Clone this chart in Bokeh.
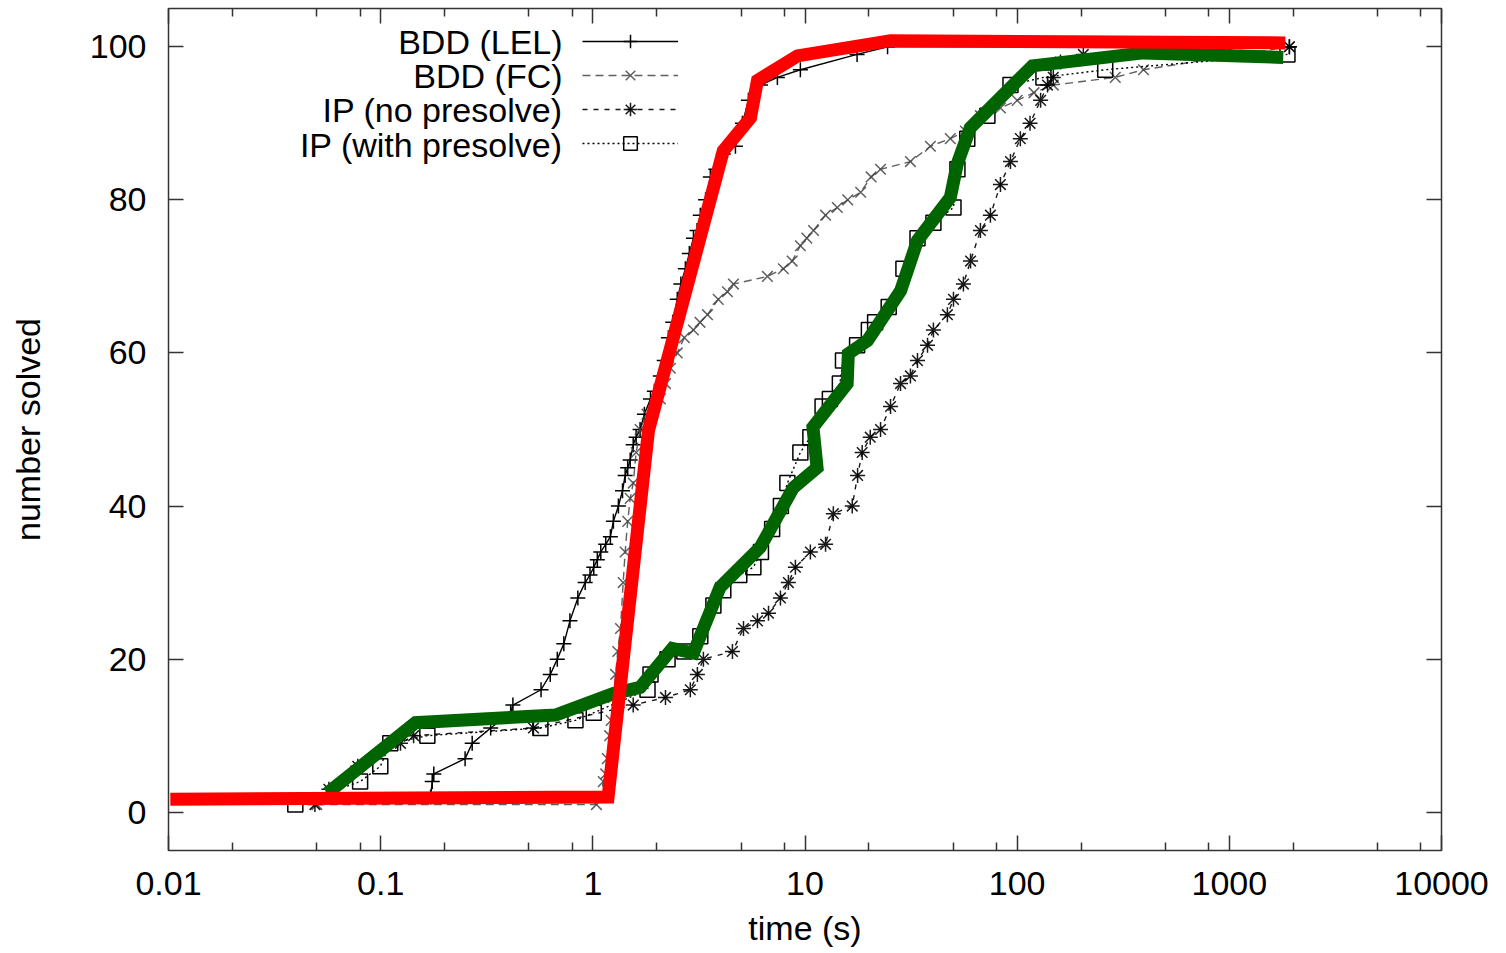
from bokeh.plotting import figure
from bokeh.models import (FixedTicker, CustomJSTickFormatter, LogAxis, LinearAxis,
                          Legend, LegendItem, Label)
from bokeh.embed import file_html
from bokeh.resources import INLINE

# ---------------- data ----------------
x_major = [0.01, 0.1, 1, 10, 100, 1000, 10000]
x_tick_labels = ["0.01", "0.1", "1", "10", "100", "1000", "10000"]
x_minor_mult = [2, 5, 8]
y_major = [0, 20, 40, 60, 80, 100]

series_names = ["BDD (LEL)", "BDD (FC)", "IP (no presolve)", "IP (with presolve)"]

lel_t = [0.172, 0.175, 0.178, 0.25, 0.27, 0.33, 0.41, 0.42, 0.57, 0.63, 0.68, 0.73,
         0.78, 0.85, 0.92, 0.97, 1.01, 1.05, 1.09, 1.15, 1.21, 1.25, 1.32, 1.38, 1.42,
         1.46, 1.5, 1.55, 1.6, 1.67, 1.75, 1.87, 1.95, 2.08, 2.17, 2.27, 2.38, 2.5,
         2.6, 2.73, 2.85, 2.98, 3.1, 3.21, 3.4, 3.58, 3.8, 4.12, 4.7, 5.07, 5.41, 6.17,
         7.41, 9.51, 17.6, 24.5, 1919]
lel_n = [2, 4, 5, 7, 9, 11, 13, 14, 16, 18, 20, 22,
         25, 28, 30, 31, 32, 33, 34, 35, 36, 38, 40, 42, 44,
         45, 46, 48, 49, 50, 52, 54, 55, 57, 59, 62, 64, 67,
         69, 71, 73, 75, 76, 78, 80, 83, 84, 86, 87, 90, 93, 95,
         96, 97, 99, 100, 100]

fc_t = [0.05, 1.04, 1.09, 1.12, 1.15, 1.17, 1.2, 1.22, 1.25, 1.28, 1.31, 1.35, 1.39,
        1.42, 1.46, 1.5, 1.55, 1.6, 1.67, 1.8, 2.08, 2.2, 2.32, 2.5, 2.7, 2.98, 3.2,
        3.47, 3.9, 4.31, 4.6, 6.65, 7.91, 8.7, 9.51, 10.2, 10.97, 12.5, 14.2, 15.9,
        18.3, 20.5, 22.7, 31.4, 39.0, 48.4, 57, 67.1, 83.4, 100, 120, 148, 290, 394, 1919]
fc_n = [1, 1, 2, 4, 5, 7, 10, 12, 15, 18, 21, 24, 30,
        34, 38, 41, 43, 47, 50, 52, 54, 56, 58, 60, 62, 63, 64,
        65, 67, 68, 69, 70, 71, 72, 74, 75, 76, 78, 79, 80,
        81, 83, 84, 85, 87, 88, 89, 91, 92, 93, 94, 95, 96, 97, 100]

ipn_t = [0.049, 0.057, 0.078, 0.124, 0.143, 0.525, 1.55, 2.2, 2.88, 3.11, 3.32, 4.55,
         5.13, 5.97, 6.73, 7.66, 8.35, 9.01, 10.6, 12.5, 13.6, 16.7, 17.7, 18.6, 20.3,
         22.7, 25.3, 28.2, 31.4, 33.9, 37.8, 40.3, 46.9, 50.1, 55.8, 60.3, 67.1, 74.8,
         83.4, 93, 103.5, 115, 129, 139, 148, 160, 205, 1919]
ipn_n = [1, 3, 6, 9, 10, 11, 14, 15, 16, 18, 20, 21,
         24, 25, 26, 28, 30, 32, 34, 35, 39, 40, 44, 47, 49,
         50, 53, 56, 57, 59, 61, 63, 65, 67, 69, 72, 76, 78,
         82, 85, 88, 90, 93, 95, 96, 98, 99, 100]

ipp_t = [0.0396, 0.080, 0.0996, 0.111, 0.166, 0.566, 0.828, 1.01, 1.81, 1.87, 2.25, 2.7,
         3.21, 3.7, 4.12, 4.9, 5.71, 6.2, 7.0, 7.7, 8.26, 9.51, 10.6, 12.1, 13.1, 14.6,
         15.1, 17.6, 20.0, 21.4, 24.8, 29.1, 33.9, 40.3, 50.1, 52.3, 58.2, 72.4, 93,
         133, 260, 1879]
ipp_n = [1, 4, 6, 9, 10, 11, 12, 13, 16, 18, 20, 21,
         23, 27, 29, 31, 32, 34, 37, 40, 43, 47, 49, 53, 54, 56,
         59, 61, 63, 64, 66, 71, 75, 77, 79, 84, 88, 91, 95,
         96, 97, 99]

green_t = [0.0561, 0.146, 0.667, 1.25, 1.67, 2.37, 2.98, 3.98, 6.15, 8.81, 11.4, 10.9,
           15.8, 16.0, 19.7, 28.2, 33.9, 48.4, 52.2, 60.1, 118, 393, 1795]
green_n = [2.5, 11.7, 12.7, 15.5, 16.3, 21.4, 20.8, 29.4, 34.6, 42.4, 45, 50.3,
           56, 59.9, 61.6, 68.1, 74.7, 80.3, 84.7, 89.4, 97.5, 99.2, 98.6]

red_t = [0.0102, 1.18, 1.83, 4.12, 5.53, 5.97, 9.21, 25.3, 1837]
red_n = [1.7, 2.0, 49.9, 86.4, 90.7, 95.6, 98.8, 100.8, 100.5]

# ---------------- figure ----------------
FONT = "Liberation Sans"
FS = "34px"
AX = "#333333"

p = figure(width=1498, height=951, x_axis_type="log", x_range=(0.01, 10000),
           y_range=(-5, 105), output_backend="svg", toolbar_location=None,
           min_border_left=168, min_border_right=57, min_border_top=8,
           min_border_bottom=101, background_fill_color="white",
           border_fill_color="white")
p.grid.visible = False
p.outline_line_color = AX
p.outline_line_width = 1.5

x_minor = [m * d for d in x_major[:-1] for m in x_minor_mult]
xt = FixedTicker(ticks=x_major, minor_ticks=x_minor)
yt = FixedTicker(ticks=y_major)

xfmt = CustomJSTickFormatter(args=dict(major=x_major, labs=x_tick_labels), code="""
const i = major.findIndex(t => Math.abs(Math.log10(t) - Math.log10(tick)) < 1e-6);
return i >= 0 ? labs[i] : '';
""")
blank = CustomJSTickFormatter(code="return '';")


def style_axis(ax, minor=True):
    ax.major_tick_in = 15
    ax.major_tick_out = 0
    ax.minor_tick_in = 8 if minor else 0
    ax.minor_tick_out = 0
    ax.axis_line_color = None
    ax.major_tick_line_color = AX
    ax.major_tick_line_width = 1.5
    ax.minor_tick_line_color = AX if minor else None
    ax.minor_tick_line_width = 1.5
    ax.major_label_text_font = FONT
    ax.major_label_text_font_size = FS
    ax.major_label_text_color = "black"
    ax.axis_label_text_font = FONT
    ax.axis_label_text_font_size = FS
    ax.axis_label_text_font_style = "normal"
    ax.axis_label_text_color = "black"


xa = p.xaxis[0]
xa.ticker = xt
xa.formatter = xfmt
xa.axis_label = "time (s)"
style_axis(xa)
xa.major_label_standoff = 21
xa.axis_label_standoff = 11

ya = p.yaxis[0]
ya.ticker = yt
ya.axis_label = "number solved"
style_axis(ya, minor=False)
ya.major_label_standoff = 22
ya.axis_label_standoff = 40

top = LogAxis(ticker=xt, formatter=blank)
style_axis(top)
top.major_label_text_font_size = "0px"
top.major_label_standoff = 0
p.add_layout(top, "above")

right = LinearAxis(ticker=yt, formatter=blank)
style_axis(right, minor=False)
right.major_label_text_font_size = "0px"
right.major_label_standoff = 0
p.add_layout(right, "right")

# ---------------- series ----------------
styles = [
    dict(t=lel_t, n=lel_n, color="black", dash="solid", marker="cross", alpha=1.0),
    dict(t=fc_t, n=fc_n, color="#444444", dash="8 5", marker="x", alpha=0.85),
    dict(t=ipn_t, n=ipn_n, color="black", dash="5 6", marker="asterisk", alpha=0.9),
    dict(t=ipp_t, n=ipp_n, color="black", dash="2 3", marker="square", alpha=1.0),
]

items = []
for name, s in zip(series_names, styles):
    lr = p.line(s["t"], s["n"], line_color=s["color"], line_width=1.4,
                line_dash=s["dash"], line_alpha=s["alpha"])
    sr = p.scatter(s["t"], s["n"], marker=s["marker"], size=15,
                   line_color=s["color"], line_width=1.5, fill_color=None,
                   line_alpha=s["alpha"])
    items.append(LegendItem(label=" ", renderers=[lr, sr]))

p.line(green_t, green_n, line_color="#006400", line_width=13, line_join="miter")
p.line(red_t, red_n, line_color="#ff0000", line_width=13, line_join="miter")

legend = Legend(items=items, location=(414, 690), glyph_width=96, glyph_height=34,
                spacing=0, padding=0, margin=0, label_standoff=0, label_width=0,
                label_height=34, label_text_font_size="1px",
                border_line_color=None, background_fill_alpha=0)
p.add_layout(legend)

label_y = [100.65, 96.2, 91.8, 87.2]
for name, yv in zip(series_names, label_y):
    p.add_layout(Label(x=0.72, y=yv, text=name, text_align="right",
                       text_baseline="middle", text_font=FONT, text_font_size=FS,
                       text_color="black"))

open("out.html", "w").write(file_html(p, INLINE))
